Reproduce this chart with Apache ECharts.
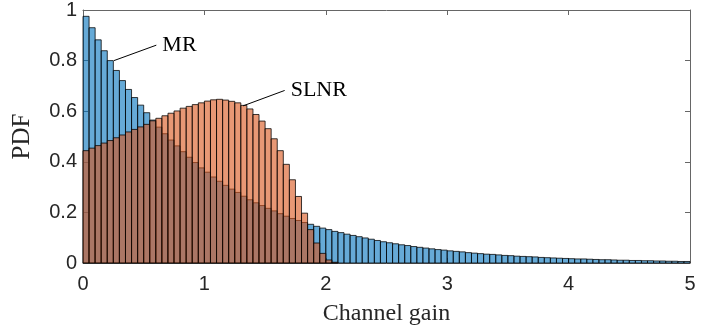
<!DOCTYPE html>
<html>
<head>
<meta charset="utf-8">
<script src="https://cdn.jsdelivr.net/npm/echarts@6/dist/echarts.min.js"></script>
<style>html,body{margin:0;padding:0;background:#fff}#c{width:721px;height:332px}</style>
</head>
<body>
<div id="c"></div>
<script>
// Histogram bins: 0 to 5, width 0.05
var binStart = 0;
var binWidth = 0.05;
var xTicks = [0, 1, 2, 3, 4, 5];
var yTicks = [0, 0.2, 0.4, 0.6, 0.8, 1];

// MR PDF per bin
var mrValues = [
  0.975, 0.930, 0.882, 0.839, 0.800, 0.761, 0.721, 0.686, 0.654, 0.624,
  0.594, 0.565, 0.537, 0.511, 0.486, 0.463, 0.440, 0.418, 0.397, 0.376,
  0.359, 0.340, 0.323, 0.307, 0.292, 0.279, 0.264, 0.250, 0.238, 0.227,
  0.216, 0.206, 0.195, 0.185, 0.176, 0.168, 0.160, 0.153, 0.145, 0.138,
  0.132, 0.125, 0.120, 0.114, 0.109, 0.104, 0.099, 0.094, 0.089, 0.084,
  0.080, 0.076, 0.072, 0.069, 0.065, 0.062, 0.059, 0.056, 0.053, 0.051,
  0.048, 0.046, 0.044, 0.041, 0.039, 0.037, 0.035, 0.034, 0.032, 0.030,
  0.029, 0.027, 0.026, 0.025, 0.024, 0.022, 0.021, 0.020, 0.019, 0.018,
  0.017, 0.016, 0.016, 0.015, 0.014, 0.013, 0.013, 0.012, 0.011, 0.011,
  0.010, 0.010, 0.009, 0.009, 0.008, 0.008, 0.007, 0.007, 0.006, 0.006
];

// SLNR PDF per bin
var slnrValues = [
  0.444, 0.454, 0.464, 0.474, 0.484, 0.495, 0.506, 0.518, 0.528, 0.538,
  0.548, 0.562, 0.572, 0.582, 0.592, 0.601, 0.612, 0.619, 0.626, 0.633,
  0.640, 0.645, 0.647, 0.644, 0.639, 0.633, 0.623, 0.609, 0.587, 0.561,
  0.531, 0.491, 0.444, 0.390, 0.329, 0.263, 0.197, 0.132, 0.079, 0.038,
  0.012, 0.003
];

// Annotation arrows [start, end] in data coordinates
var mrArrow = [[0.255, 0.800], [0.604, 0.861]];
var slnrArrow = [[1.318, 0.621], [1.661, 0.682]];

function toBins(vals) {
  var out = [];
  for (var i = 0; i < vals.length; i++) {
    var a = binStart + i * binWidth;
    out.push([a, a + binWidth, vals[i]]);
  }
  return out;
}

function makeRender(fill) {
  return function (params, api) {
    var x0 = api.value(0), x1 = api.value(1), y = api.value(2);
    var p0 = api.coord([x0, y]);
    var p1 = api.coord([x1, 0]);
    return {
      type: 'rect',
      shape: { x: p0[0], y: p0[1], width: p1[0] - p0[0], height: p1[1] - p0[1] },
      style: { fill: fill, stroke: 'rgba(0,0,0,0.85)', lineWidth: 0.9 }
    };
  };
}

var chart = echarts.init(document.getElementById('c'), null, { renderer: 'canvas' });
var axisColor = '#666666';
var labelFont = 'Liberation Sans';
var serif = 'Liberation Serif';

chart.setOption({
  animation: false,
  backgroundColor: '#fff',
  grid: { left: 83, right: 31, top: 7, bottom: 69, containLabel: false },
  xAxis: [{
    type: 'value', min: 0, max: 5, interval: 1, position: 'bottom',
    name: 'Channel gain', nameLocation: 'middle', nameGap: 39,
    nameTextStyle: { fontFamily: serif, fontSize: 24, color: '#262626' },
    axisLine: { show: true, onZero: false, lineStyle: { color: axisColor, width: 1 } },
    axisTick: { show: true, inside: true, length: 5, lineStyle: { color: axisColor } },
    axisLabel: { fontFamily: labelFont, fontSize: 20, color: '#262626', margin: 11 },
    splitLine: { show: false }
  }, {
    type: 'value', min: 0, max: 5, interval: 1, position: 'top',
    axisLine: { show: true, onZero: false, lineStyle: { color: axisColor, width: 1 } },
    axisTick: { show: true, inside: true, length: 5, lineStyle: { color: axisColor } },
    axisLabel: { show: false }, splitLine: { show: false }
  }],
  yAxis: [{
    type: 'value', min: 0, max: 1, interval: 0.2, position: 'left',
    name: 'PDF', nameLocation: 'middle', nameGap: 48, nameRotate: 90,
    nameTextStyle: { fontFamily: serif, fontSize: 25, color: '#262626' },
    axisLine: { show: true, onZero: false, lineStyle: { color: axisColor, width: 1 } },
    axisTick: { show: true, inside: true, length: 5, lineStyle: { color: axisColor } },
    axisLabel: { fontFamily: labelFont, fontSize: 20, color: '#262626', margin: 6 },
    splitLine: { show: false }
  }, {
    type: 'value', min: 0, max: 1, interval: 0.2, position: 'right',
    axisLine: { show: true, onZero: false, lineStyle: { color: axisColor, width: 1 } },
    axisTick: { show: true, inside: true, length: 5, lineStyle: { color: axisColor } },
    axisLabel: { show: false }, splitLine: { show: false }
  }],
  series: [{
    name: 'MR', type: 'custom', xAxisIndex: 0, yAxisIndex: 0,
    renderItem: makeRender('rgba(0,114,189,0.6)'),
    encode: { x: [0, 1], y: 2 },
    data: toBins(mrValues), z: 2
  }, {
    name: 'SLNR', type: 'custom', xAxisIndex: 0, yAxisIndex: 0,
    renderItem: makeRender('rgba(217,83,25,0.6)'),
    encode: { x: [0, 1], y: 2 },
    data: toBins(slnrValues), z: 3
  }, {
    type: 'line', xAxisIndex: 0, yAxisIndex: 0, z: 5,
    data: mrArrow, symbol: 'none', silent: true,
    lineStyle: { color: '#000', width: 1 },
    endLabel: { show: true, formatter: 'MR', fontFamily: serif, fontSize: 22, color: '#000', distance: 6 }
  }, {
    type: 'line', xAxisIndex: 0, yAxisIndex: 0, z: 5,
    data: slnrArrow, symbol: 'none', silent: true,
    lineStyle: { color: '#000', width: 1 },
    endLabel: { show: true, formatter: 'SLNR', fontFamily: serif, fontSize: 22, color: '#000', distance: 6 }
  }]
});
</script>
</body>
</html>
